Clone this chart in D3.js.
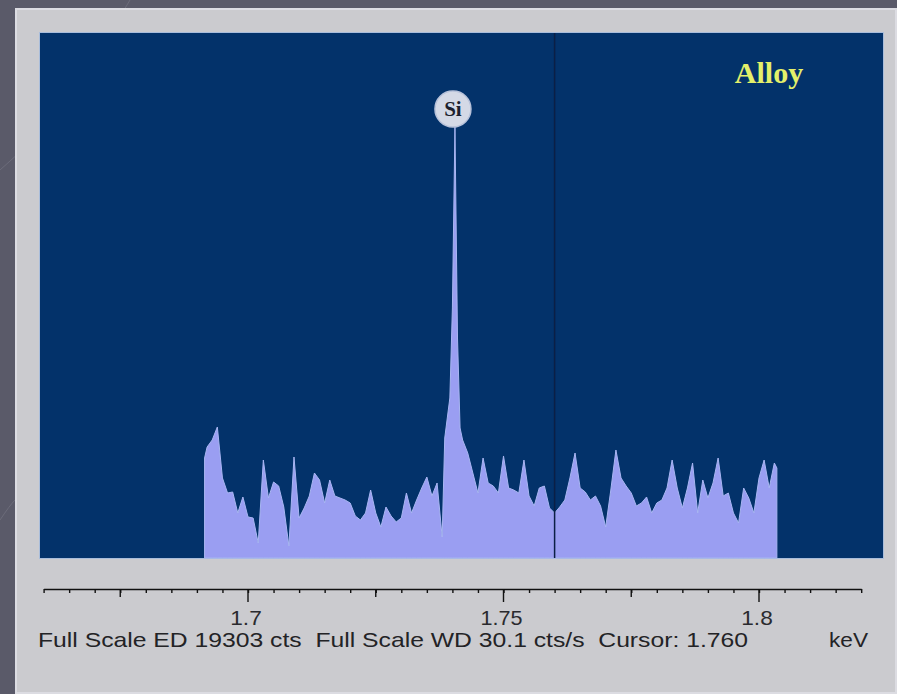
<!DOCTYPE html>
<html>
<head>
<meta charset="utf-8">
<script src="https://cdn.jsdelivr.net/npm/d3@7"></script>
<style>
  html, body { margin: 0; padding: 0; background: #5a5a69; }
  svg { display: block; }
</style>
</head>
<body>
<div id="chart"></div>
<script>
// spectrum points: [keV, counts]
const spectrum = [
  [1.6915, 3677], [1.692, 4081], [1.693, 4339], [1.694, 4817], [1.695, 2942], [1.696, 2390],
  [1.697, 2427], [1.698, 1655], [1.699, 2243], [1.700, 1508], [1.701, 1471], [1.702, 552],
  [1.703, 3603], [1.704, 2206], [1.705, 2795], [1.706, 2647], [1.707, 1875], [1.708, 441],
  [1.709, 3714], [1.710, 1471], [1.711, 1839], [1.712, 2280], [1.713, 3125], [1.714, 2868],
  [1.715, 2022], [1.716, 2868], [1.717, 2280], [1.718, 2206], [1.719, 2133], [1.720, 2022],
  [1.721, 1544], [1.722, 1397], [1.723, 1655], [1.724, 2500], [1.725, 1655], [1.726, 1140],
  [1.727, 1875], [1.728, 1544], [1.729, 1324], [1.730, 1471], [1.731, 2390], [1.732, 1655],
  [1.733, 2133], [1.734, 2574], [1.735, 2978], [1.736, 2280], [1.737, 2758], [1.738, 772],
  [1.7385, 4412], [1.739, 5148], [1.7395, 5883], [1.740, 9193], [1.7405, 15850], [1.741, 8089],
  [1.7415, 4780], [1.742, 4339], [1.743, 3861], [1.744, 3125], [1.745, 2390], [1.746, 3677],
  [1.747, 2758], [1.748, 2647], [1.749, 2390], [1.750, 3751], [1.751, 2574], [1.752, 2500],
  [1.753, 2390], [1.754, 3603], [1.755, 2280], [1.756, 1912], [1.757, 2574], [1.758, 2647],
  [1.759, 1839], [1.760, 1655], [1.761, 1875], [1.762, 2133], [1.763, 2942], [1.764, 3861],
  [1.765, 2574], [1.766, 2427], [1.767, 2133], [1.768, 2280], [1.769, 1912], [1.770, 1140],
  [1.771, 2500], [1.772, 3971], [1.773, 2942], [1.774, 2647], [1.775, 2390], [1.776, 1912],
  [1.777, 2022], [1.778, 2243], [1.779, 1655], [1.780, 2022], [1.781, 2133], [1.782, 2574],
  [1.783, 3603], [1.784, 2574], [1.785, 1839], [1.786, 2574], [1.787, 3493], [1.788, 1655],
  [1.789, 2868], [1.790, 2206], [1.791, 2758], [1.792, 3677], [1.793, 2280], [1.794, 2390],
  [1.795, 1655], [1.796, 1287], [1.797, 2574], [1.798, 2206], [1.799, 1655], [1.800, 2942],
  [1.801, 3603], [1.802, 2574], [1.803, 3493], [1.8035, 3309]
]

const energyRange = [1.66, 1.82]
const fullScaleED = 19303
const fullScaleWD = 30.1
const cursorKeV = 1.760
const majorTicks = [1.7, 1.75, 1.8]
const midTicks = [1.675, 1.725, 1.775]
const peaks = [{ label: 'Si', keV: 1.7405 }]
const sampleName = 'Alloy'

const W = 897, H = 694
const PLOT = { left: 40, top: 33, right: 883, bottom: 558 }
const AXIS_Y = 589
const SANS = 'Arial, "Liberation Sans", sans-serif'
const SERIF = '"Times New Roman", "Liberation Serif", serif'

const svg = d3.select('#chart').append('svg').attr('width', W).attr('height', H)

// ── Slide background ─────────────────────────────────────────────────────
svg.append('rect').attr('width', W).attr('height', H).attr('fill', '#5a5a69')
svg.append('path').attr('d', 'M0,170 Q60,120 130,0').attr('fill', 'none').attr('stroke', '#6c6c7a').attr('stroke-width', 1)
svg.append('path').attr('d', 'M0,520 Q10,505 15,500').attr('fill', 'none').attr('stroke', '#6c6c7a').attr('stroke-width', 1)

// ── Window panel ─────────────────────────────────────────────────────────
svg.append('rect').attr('x', 15).attr('y', 8).attr('width', W - 15).attr('height', H - 8).attr('fill', '#cbcbcf')
svg.append('rect').attr('x', 16).attr('y', 9).attr('width', W - 17).attr('height', H - 10)
  .attr('fill', 'none').attr('stroke', '#dcdce2').attr('stroke-width', 2)

// ── Plot area ────────────────────────────────────────────────────────────
svg.append('rect')
  .attr('x', PLOT.left - 1).attr('y', PLOT.top - 1)
  .attr('width', PLOT.right - PLOT.left + 2).attr('height', PLOT.bottom - PLOT.top + 2)
  .attr('fill', '#a9bddb')
svg.append('rect')
  .attr('x', PLOT.left).attr('y', PLOT.top)
  .attr('width', PLOT.right - PLOT.left).attr('height', PLOT.bottom - PLOT.top)
  .attr('fill', '#03326a')

// ── Scales ───────────────────────────────────────────────────────────────
const x = d3.scaleLinear().domain(energyRange).range([43.6, 861.2])
const y = d3.scaleLinear().domain([0, fullScaleED]).range([PLOT.bottom, PLOT.top])

// ── Spectrum ─────────────────────────────────────────────────────────────
const area = d3.area()
  .x(d => x(d[0]))
  .y0(y(0))
  .y1(d => y(d[1]))

svg.append('path')
  .datum(spectrum)
  .attr('d', area)
  .attr('fill', '#9a9ef2')
  .attr('stroke', '#a9b6f2')
  .attr('stroke-width', 1)
  .attr('stroke-linejoin', 'round')

// ── Cursor ───────────────────────────────────────────────────────────────
svg.append('line')
  .attr('x1', x(cursorKeV)).attr('x2', x(cursorKeV))
  .attr('y1', PLOT.top).attr('y2', PLOT.bottom)
  .attr('stroke', '#0b1f45').attr('stroke-width', 1.5)

// ── Peak labels ──────────────────────────────────────────────────────────
peaks.forEach(p => {
  const cx = x(p.keV) - 2
  svg.append('circle').attr('cx', cx).attr('cy', 109).attr('r', 18)
    .attr('fill', '#d4d9e6').attr('stroke', '#b8c2da').attr('stroke-width', 1.5)
  svg.append('text').attr('x', cx).attr('y', 116).attr('text-anchor', 'middle')
    .attr('font-family', SERIF).attr('font-weight', 'bold').attr('font-size', 21)
    .attr('fill', '#1c1f2e').text(p.label)
})

// ── Sample name ──────────────────────────────────────────────────────────
svg.append('text').attr('x', 769).attr('y', 83).attr('text-anchor', 'middle')
  .attr('font-family', SERIF).attr('font-weight', 'bold').attr('font-size', 30)
  .attr('fill', '#e4f06a').text(sampleName)

// ── Energy axis ──────────────────────────────────────────────────────────
const axisG = svg.append('g').attr('transform', `translate(0,${AXIS_Y})`)
axisG.call(d3.axisBottom(x).tickValues(x.ticks(32)).tickSize(4).tickSizeOuter(0).tickFormat(''))
axisG.call(g => g.select('.domain').attr('stroke', '#111').attr('stroke-width', 1.6))
axisG.selectAll('.tick line').attr('stroke', '#111').attr('stroke-width', 1.4)

axisG.selectAll('.mid-tick').data(midTicks).join('line')
  .attr('class', 'mid-tick')
  .attr('x1', d => x(d)).attr('x2', d => x(d)).attr('y1', 0).attr('y2', 8)
  .attr('stroke', '#111').attr('stroke-width', 1.4)

axisG.selectAll('.major-tick').data(majorTicks).join('line')
  .attr('class', 'major-tick')
  .attr('x1', d => x(d)).attr('x2', d => x(d)).attr('y1', 0).attr('y2', 13)
  .attr('stroke', '#111').attr('stroke-width', 1.4)

axisG.selectAll('.major-label').data(majorTicks).join('text')
  .attr('class', 'major-label')
  .attr('x', d => x(d) - 2).attr('y', 36)
  .attr('text-anchor', 'middle')
  .attr('font-family', SANS).attr('font-size', 21)
  .attr('textLength', d => String(d).length * 10.5)
  .attr('lengthAdjust', 'spacingAndGlyphs')
  .attr('fill', '#2a2a2e')
  .text(d => d)

// ── Status line ──────────────────────────────────────────────────────────
svg.append('text').attr('x', 38).attr('y', 647)
  .attr('font-family', SANS).attr('font-size', 21)
  .attr('textLength', 710).attr('lengthAdjust', 'spacingAndGlyphs')
  .style('white-space', 'pre')
  .attr('fill', '#232326')
  .text(`Full Scale ED ${fullScaleED} cts  Full Scale WD ${fullScaleWD} cts/s  Cursor: ${cursorKeV.toFixed(3)}`)

svg.append('text').attr('x', 829).attr('y', 647)
  .attr('font-family', SANS).attr('font-size', 21)
  .attr('textLength', 39).attr('lengthAdjust', 'spacingAndGlyphs')
  .attr('fill', '#232326')
  .text('keV')
</script>
</body>
</html>
